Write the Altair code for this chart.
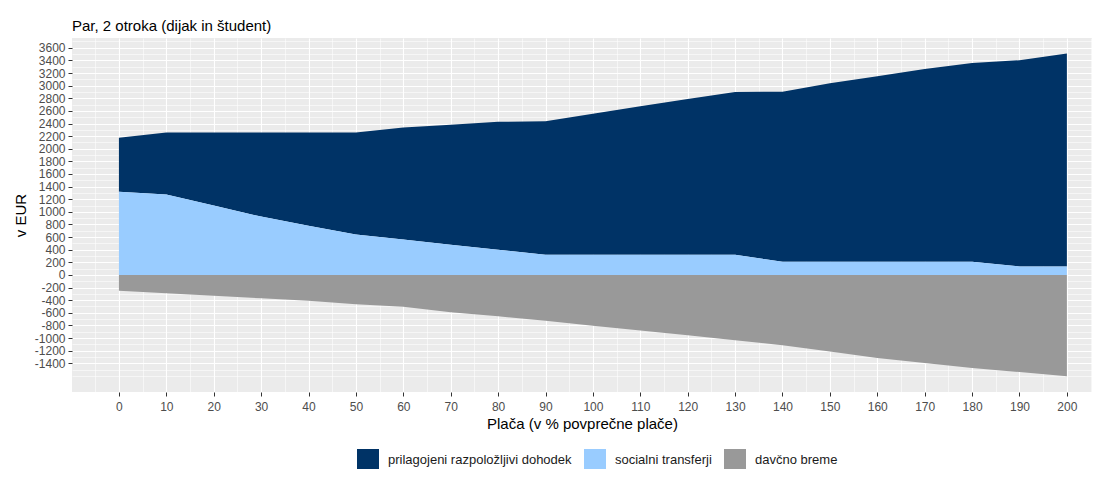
import altair as alt
import pandas as pd

placa = [0, 10, 20, 30, 40, 50, 60, 70, 80, 90, 100, 110, 120, 130, 140, 150, 160, 170, 180, 190, 200]
dohodek = [855, 981, 1156, 1331, 1476, 1616, 1776, 1900, 2028, 2114, 2235, 2355, 2470, 2580, 2695, 2826, 2938, 3054, 3150, 3267, 3373]
transferji = [1320, 1275, 1100, 925, 780, 640, 560, 480, 400, 320, 320, 320, 320, 320, 210, 210, 210, 210, 210, 135, 135]
breme = [-250, -290, -330, -370, -410, -465, -505, -590, -655, -725, -805, -880, -955, -1035, -1115, -1215, -1315, -1395, -1475, -1540, -1605]

serije = ["prilagojeni razpoložljivi dohodek", "socialni transferji", "davčno breme"]
barve = ["#003366", "#99CCFF", "#999999"]

rows = []
for i, x in enumerate(placa):
    rows.append({"placa": x, "serija": serije[0], "vrednost": dohodek[i], "red": 2})
    rows.append({"placa": x, "serija": serije[1], "vrednost": transferji[i], "red": 1})
    rows.append({"placa": x, "serija": serije[2], "vrednost": breme[i], "red": 3})
df = pd.DataFrame(rows)

FONT = "Liberation Sans"

x_major = "datum.value % 10 === 0 && datum.value >= 0 && datum.value <= 200"
y_major = "datum.value % 200 === 0 && datum.value >= -1400 && datum.value <= 3600"

x_vals = list(range(-5, 210, 5))
y_vals = list(range(-1600, 3800, 100))

chart = alt.Chart(df).mark_area(interpolate="linear", strokeWidth=0).encode(
    x=alt.X(
        "placa:Q",
        scale=alt.Scale(domain=[-9.9, 205.3], nice=False, zero=False),
        axis=alt.Axis(
            values=x_vals,
            title="Plača (v % povprečne plače)",
            labelExpr="(" + x_major + ") ? ('' + datum.value) : ''",
            gridColor="#FFFFFF",
            gridOpacity=1,
            gridWidth={"condition": {"test": x_major, "value": 1.1}, "value": 0.55},
            tickOpacity={"condition": {"test": x_major, "value": 1}, "value": 0},
            tickColor="#333333",
            tickSize=4,
            domain=False,
            labelColor="#4D4D4D",
            labelFontSize=12,
            labelPadding=5,
            labelFont=FONT,
            titleFont=FONT,
            titleFontSize=15,
            titleFontWeight="normal",
            titleColor="#000000",
            titlePadding=4,
            labelOverlap=False,
        ),
    ),
    y=alt.Y(
        "vrednost:Q",
        stack="zero",
        scale=alt.Scale(domain=[-1855, 3755], nice=False, zero=False),
        axis=alt.Axis(
            values=y_vals,
            title="v EUR",
            labelExpr="(" + y_major + ") ? ('' + datum.value) : ''",
            gridColor="#FFFFFF",
            gridOpacity=1,
            gridWidth={"condition": {"test": y_major, "value": 1.1}, "value": 0.55},
            tickOpacity={"condition": {"test": y_major, "value": 1}, "value": 0},
            tickColor="#333333",
            tickSize=4,
            domain=False,
            labelColor="#4D4D4D",
            labelFontSize=12,
            labelPadding=3,
            labelFont=FONT,
            titleFont=FONT,
            titleFontSize=15,
            titleFontWeight="normal",
            titleColor="#000000",
            titlePadding=6,
            labelOverlap=False,
        ),
    ),
    color=alt.Color(
        "serija:N",
        scale=alt.Scale(domain=serije, range=barve),
        legend=alt.Legend(
            title=None,
            orient="none",
            legendX=285,
            legendY=411,
            direction="horizontal",
            symbolType="square",
            symbolSize=484,
            symbolStrokeWidth=0,
            symbolOpacity=1,
            labelFont=FONT,
            labelFontSize=13,
            labelColor="#1A1A1A",
            labelOffset=9,
            labelLimit=400,
            columnPadding=12,
        ),
    ),
    order=alt.Order("red:Q"),
).properties(
    width=1020,
    height=354,
    padding={"left": 64, "top": 30, "right": 4, "bottom": 77},
    autosize=alt.AutoSizeParams(type="none"),
    background="#FFFFFF",
    title=alt.TitleParams(
        "Par, 2 otroka (dijak in študent)",
        anchor="start",
        frame="group",
        font=FONT,
        fontSize=15,
        fontWeight="normal",
        color="#000000",
        baseline="bottom",
        offset=7,
        dy=21,
    ),
).configure_view(
    fill="#EBEBEB",
    strokeWidth=0,
)

chart.save("out.html", embed_options={"renderer": "svg", "actions": False})
